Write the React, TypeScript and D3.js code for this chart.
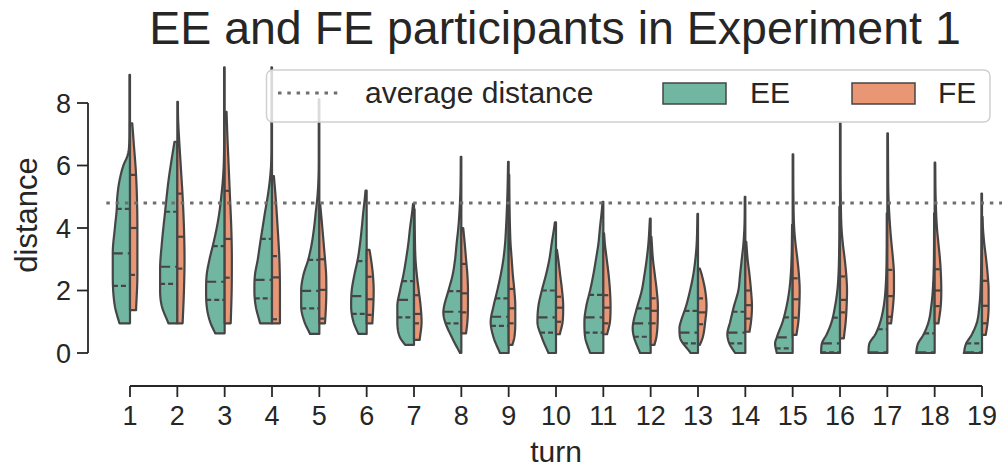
import React from 'react';
import * as d3 from 'd3';

// ---------- data ----------
const turns = [1, 2, 3, 4, 5, 6, 7, 8, 9, 10, 11, 12, 13, 14, 15, 16, 17, 18, 19];
const yTicks = [0, 2, 4, 6, 8];
const avgDistance = 4.8;
const hueNames = ['EE', 'FE'];

const eeMin = [0.95, 0.95, 0.63, 0.95, 0.61, 0.61, 0.26, 0, 0, 0, 0, 0, 0, 0, 0, 0, 0, 0, 0];
const eeMax = [8.9, 6.76, 9.14, 9.14, 8.12, 5.2, 4.77, 6.28, 6.12, 4.18, 4.84, 4.3, 4.45, 5.0, 4.1, 4.68, 4.47, 4.47, 5.1];
const eeQ1 = [2.15, 2.21, 1.7, 1.75, 1.43, 1.25, 1.14, 0.95, 0.87, 0.65, 0.65, 0.52, 0.31, 0.31, 0.15, 0.02, 0, 0, 0];
const eeMed = [3.19, 2.76, 2.28, 2.34, 1.99, 1.82, 1.7, 1.32, 1.16, 1.14, 1.14, 0.95, 0.65, 0.65, 0.5, 0.31, 0.02, 0.02, 0.02];
const eeQ3 = [4.61, 4.52, 3.42, 3.65, 2.98, 2.94, 2.3, 1.98, 1.75, 2.0, 1.86, 1.43, 1.35, 1.32, 1.14, 1.13, 0.76, 0.63, 0.31];
// density profile: [value, relative half-width]
const eeShape: number[][][] = [
  [[0.95, .56], [1.5, .8], [2.5, .91], [3.2, .91], [4, .8], [4.6, .7], [5, .67], [5.5, .56], [6, .35], [6.3, .14], [6.6, .05], [7.2, .03], [8.9, .03]],
  [[0.95, .47], [1.5, .82], [2, .91], [2.7, .91], [3.5, .82], [4.5, .65], [5.5, .47], [6.2, .3], [6.76, .15]],
  [[0.63, .5], [1, .77], [1.5, .95], [2, .98], [2.5, .95], [3, .8], [3.5, .6], [4, .42], [4.5, .28], [5, .18], [5.5, .1], [6, .05], [6.8, .03], [9.14, .03]],
  [[0.95, .63], [1.5, .86], [2, .93], [2.5, .9], [3, .75], [3.5, .63], [4, .5], [4.5, .37], [5, .23], [5.5, .12], [6, .05], [6.8, .03], [9.14, .03]],
  [[0.61, .49], [1, .79], [1.5, .96], [2, .96], [2.5, .84], [3, .58], [3.5, .4], [4, .28], [4.5, .19], [5, .1], [5.5, .05], [6.2, .03], [8.12, .03]],
  [[0.61, .44], [1, .7], [1.5, .82], [2, .79], [2.5, .65], [3, .47], [3.5, .35], [4, .26], [4.5, .18], [5, .09], [5.2, .06]],
  [[0.26, .47], [0.5, .74], [1, .88], [1.5, .88], [2, .74], [2.5, .56], [3, .42], [3.5, .3], [4, .21], [4.5, .1], [4.77, .05]],
  [[0, .07], [0.5, .5], [1, .86], [1.3, .95], [1.5, .91], [2, .68], [2.5, .46], [3, .33], [3.5, .25], [4, .16], [4.5, .1], [5, .06], [5.5, .04], [6.28, .03]],
  [[0, .46], [0.5, .8], [1, .95], [1.5, .8], [2, .6], [2.5, .42], [3, .28], [3.5, .19], [4, .14], [5, .07], [6.12, .03]],
  [[0, .4], [0.5, .75], [1, .98], [1.5, .93], [2, .75], [2.5, .53], [3, .35], [3.5, .23], [4, .1], [4.18, .06]],
  [[0, .7], [0.5, .96], [1, 1.0], [1.5, .9], [2, .7], [2.5, .53], [3, .39], [3.5, .26], [4, .18], [4.5, .09], [4.84, .04]],
  [[0, .56], [0.5, .88], [0.8, .95], [1, .91], [1.5, .7], [2, .47], [2.5, .33], [3, .21], [3.5, .12], [4.3, .04]],
  [[0, .39], [0.5, .95], [0.8, .98], [1, .91], [1.5, .63], [2, .42], [2.5, .25], [3, .14], [3.5, .07], [4.45, .03]],
  [[0, .54], [0.3, .84], [0.6, .95], [1, .8], [1.5, .6], [2, .37], [2.5, .28], [3, .19], [3.5, .1], [4.2, .04], [5.0, .03]],
  [[0, .84], [0.3, .93], [0.5, .84], [1, .53], [1.5, .32], [2, .18], [2.5, .1], [3, .06], [4.1, .03]],
  [[0, 1.0], [0.3, .96], [0.6, .7], [1, .44], [1.5, .26], [2, .14], [2.5, .08], [3.5, .04], [4.68, .03]],
  [[0, 1.0], [0.3, .95], [0.6, .63], [1, .37], [1.5, .19], [2, .1], [3, .04], [4.47, .03]],
  [[0, .98], [0.3, .88], [0.6, .58], [1, .32], [1.5, .18], [2, .1], [3, .04], [4.47, .03]],
  [[0, .96], [0.3, .84], [0.6, .53], [1, .26], [1.5, .14], [2, .08], [3, .04], [5.1, .03]],
];

const feMin = [1.37, 0.95, 0.95, 0.95, 0.95, 0.95, 0.42, 0.63, 0.26, 0.6, 0.6, 0.26, 0.26, 0.68, 0.58, 0.47, 0.95, 0.95, 0.58];
const feMax = [7.35, 8.04, 7.72, 5.66, 4.74, 3.3, 4.6, 4.0, 5.7, 3.3, 3.83, 3.72, 2.7, 3.56, 6.36, 7.35, 7.03, 6.09, 4.36];
const feQ1 = [2.5, 2.7, 2.41, 1.08, 1.1, 1.22, 0.95, 1.3, 0.95, 1.0, 0.95, 0.95, 0.92, 1.1, 1.13, 1.3, 1.16, 1.5, 0.95];
const feMed = [4.0, 3.72, 3.65, 2.42, 2.02, 1.72, 1.25, 1.91, 1.43, 1.45, 1.45, 1.35, 1.3, 1.53, 1.72, 1.7, 1.82, 2.0, 1.51];
const feQ3 = [5.7, 5.1, 5.19, 3.1, 3.0, 2.44, 1.85, 2.85, 2.05, 1.8, 1.85, 1.75, 1.75, 2.0, 2.39, 2.45, 2.66, 2.68, 2.31];
const feShape: number[][][] = [
  [[1.37, .32], [2.5, .39], [4, .39], [5.7, .32], [6.7, .2], [7.35, .12]],
  [[0.95, .28], [2, .35], [3, .38], [4, .35], [5, .28], [6, .18], [7, .08], [7.5, .04], [8.04, .03]],
  [[0.95, .32], [2, .37], [3, .38], [4, .35], [5, .28], [6, .21], [7, .14], [7.72, .1]],
  [[0.95, .42], [1.5, .42], [2, .42], [3, .39], [4, .3], [5, .19], [5.66, .1]],
  [[0.95, .3], [1.5, .35], [2, .37], [2.5, .36], [3, .3], [3.5, .23], [4, .16], [4.74, .05]],
  [[0.95, .3], [1.5, .35], [2, .37], [2.5, .33], [3, .23], [3.3, .15]],
  [[0.42, .3], [1, .4], [1.5, .35], [2, .25], [2.5, .15], [3, .08], [4, .04], [4.6, .03]],
  [[0.63, .25], [1, .32], [1.5, .35], [2, .35], [2.5, .32], [3, .25], [3.5, .18], [4, .1]],
  [[0.26, .2], [0.5, .3], [1, .35], [1.5, .35], [2, .3], [2.5, .22], [3, .16], [3.5, .1], [4, .07], [5, .04], [5.7, .03]],
  [[0.6, .2], [1, .35], [1.5, .38], [2, .32], [2.5, .22], [3, .12], [3.3, .05]],
  [[0.6, .2], [1, .35], [1.5, .38], [2, .35], [2.5, .28], [3, .18], [3.5, .08], [3.83, .04]],
  [[0.26, .2], [0.5, .3], [1, .37], [1.5, .38], [2, .32], [2.5, .22], [3, .12], [3.72, .04]],
  [[0.26, .1], [0.5, .25], [1, .38], [1.5, .45], [2, .38], [2.5, .2], [2.7, .1]],
  [[0.68, .22], [1, .3], [1.5, .35], [2, .3], [2.5, .22], [3, .12], [3.56, .05]],
  [[0.58, .2], [1, .3], [1.5, .35], [2, .37], [2.5, .33], [3, .25], [3.5, .15], [4, .08], [5, .04], [6.36, .03]],
  [[0.47, .2], [1, .3], [1.5, .35], [2, .37], [2.5, .33], [3, .25], [3.5, .15], [4, .08], [5, .04], [6, .03], [7.35, .03]],
  [[0.95, .2], [1.5, .3], [2, .35], [2.5, .35], [3, .3], [3.5, .22], [4, .15], [5, .06], [6, .04], [7.03, .03]],
  [[0.95, .2], [1.5, .32], [2, .35], [2.5, .33], [3, .28], [3.5, .2], [4, .12], [5, .05], [6.09, .03]],
  [[0.58, .2], [1, .3], [1.5, .35], [2, .35], [2.5, .3], [3, .22], [3.5, .12], [4, .05], [4.36, .03]],
];

// ---------- styling ----------
const W = 1002;
const H = 471;
const FONT = '"Liberation Sans", Arial, Helvetica, sans-serif';
const C_EE = '#71b6a0';
const C_FE = '#e99675';
const EDGE = '#454545';
const INK = '#262626';
const LW = 2.2;

// monotone cubic interpolation of a profile
function monotone(pts: number[][]) {
  const xs = pts.map(p => p[0]);
  const ys = pts.map(p => p[1]);
  const n = xs.length;
  const d: number[] = [];
  const m: number[] = new Array(n).fill(0);
  for (let i = 0; i < n - 1; i++) d[i] = (ys[i + 1] - ys[i]) / (xs[i + 1] - xs[i]);
  m[0] = d[0];
  m[n - 1] = d[n - 2];
  for (let i = 1; i < n - 1; i++) m[i] = d[i - 1] * d[i] <= 0 ? 0 : (d[i - 1] + d[i]) / 2;
  for (let i = 0; i < n - 1; i++) {
    if (d[i] === 0) { m[i] = 0; m[i + 1] = 0; continue; }
    const a = m[i] / d[i], b = m[i + 1] / d[i];
    const s = a * a + b * b;
    if (s > 9) { const t = 3 / Math.sqrt(s); m[i] = t * a * d[i]; m[i + 1] = t * b * d[i]; }
  }
  return (x: number) => {
    if (x <= xs[0]) return ys[0];
    if (x >= xs[n - 1]) return ys[n - 1];
    let i = 0;
    while (i < n - 2 && x > xs[i + 1]) i++;
    const h = xs[i + 1] - xs[i];
    const t = (x - xs[i]) / h;
    const t2 = t * t, t3 = t2 * t;
    return Math.max(0.02,
      (2 * t3 - 3 * t2 + 1) * ys[i] + (t3 - 2 * t2 + t) * h * m[i] +
      (-2 * t3 + 3 * t2) * ys[i + 1] + (t3 - t2) * h * m[i + 1]);
  };
}

export default function App() {
  const x = d3.scaleBand<number>().domain(turns).range([106.33, 1005.67]).padding(0);
  const y = d3.scaleLinear().domain([0, 8]).range([353, 103]);
  const halfMax = x.bandwidth() * 0.4;
  const cx = (t: number) => (x(t) as number) + x.bandwidth() / 2;

  const halves: any[] = [];
  turns.forEach((t, i) => {
    const c = cx(t);
    [
      { side: -1, mn: eeMin[i], mx: eeMax[i], shape: eeShape[i], q: [eeQ1[i], eeMed[i], eeQ3[i]], fill: C_EE },
      { side: 1, mn: feMin[i], mx: feMax[i], shape: feShape[i], q: [feQ1[i], feMed[i], feQ3[i]], fill: C_FE },
    ].forEach((h, k) => {
      const wf = monotone(h.shape);
      const N = 160;
      const pts: [number, number][] = [];
      for (let j = 0; j <= N; j++) {
        const v = h.mn + (h.mx - h.mn) * j / N;
        pts.push([c + h.side * wf(v) * halfMax, y(v)]);
      }
      pts.push([c, y(h.mx)]);
      pts.push([c, y(h.mn)]);
      const path = d3.line()(pts) + 'Z';
      const qlines = h.q.map((qv, qi) => {
        const w = wf(qv) * halfMax;
        const x1 = h.side < 0 ? c - w : c;
        const x2 = h.side < 0 ? c : c + w;
        return { x1, x2, y: y(qv), dash: qi === 1 ? '10 5' : '5 3' };
      });
      halves.push({ key: `${t}-${k}`, path, fill: h.fill, qlines });
    });
  });

  const xr = x.range();

  return (
    <svg width={W} height={H} style={{ position: 'absolute', left: 0, top: 0, background: '#fff' }}
      fontFamily={FONT}>
      {/* title */}
      <text x={555} y={44} textAnchor="middle" fontSize={46.5} fill={INK}>
        EE and FE participants in Experiment 1
      </text>

      {/* violins */}
      {halves.map(h => (
        <g key={h.key}>
          <path d={h.path} fill={h.fill} stroke={EDGE} strokeWidth={LW} strokeLinejoin="round" />
          {h.qlines.map((q: any, qi: number) => (
            <line key={qi} x1={q.x1} x2={q.x2} y1={q.y} y2={q.y} stroke={EDGE} strokeWidth={LW}
              strokeDasharray={q.dash} />
          ))}
        </g>
      ))}

      {/* average line */}
      <line x1={xr[0]} x2={xr[1]} y1={y(avgDistance)} y2={y(avgDistance)} stroke="#6e6e6e"
        strokeWidth={3} strokeDasharray="3.5 5.8" />

      {/* y axis */}
      <g>
        <line x1={88} x2={88} y1={y(0)} y2={y(8)} stroke={INK} strokeWidth={1.8} />
        {yTicks.map(t => (
          <g key={t}>
            <line x1={77} x2={88} y1={y(t)} y2={y(t)} stroke={INK} strokeWidth={1.8} />
            <text x={71} y={y(t)} dy="0.36em" textAnchor="end" fontSize={27} fill={INK}>{t}</text>
          </g>
        ))}
        <text transform={`translate(37, 215) rotate(-90)`} textAnchor="middle" fontSize={31} fill={INK}>distance</text>
      </g>

      {/* x axis */}
      <g>
        <line x1={cx(turns[0])} x2={cx(turns[turns.length - 1])} y1={386} y2={386} stroke={INK} strokeWidth={1.8} />
        {turns.map(t => (
          <g key={t}>
            <line x1={cx(t)} x2={cx(t)} y1={386} y2={397} stroke={INK} strokeWidth={1.8} />
            <text x={cx(t)} y={425} textAnchor="middle" fontSize={27} fill={INK}>{t}</text>
          </g>
        ))}
        <text x={556} y={462} textAnchor="middle" fontSize={30} fill={INK}>turn</text>
      </g>

      {/* legend */}
      <g>
        <rect x={266.5} y={70} width={723.5} height={52} rx={6} fill="#fff" fillOpacity={0.8}
          stroke="#d0d0d0" strokeWidth={1.5} />
        <line x1={278} x2={340} y1={93} y2={93} stroke="#6e6e6e" strokeWidth={3} strokeDasharray="3.5 5.8" />
        <text x={365} y={103} fontSize={30} fill={INK}>average distance</text>
        <rect x={663} y={83} width={63} height={21} fill={C_EE} stroke={EDGE} strokeWidth={1.5} />
        <text x={750} y={103} fontSize={30} fill={INK}>{hueNames[0]}</text>
        <rect x={852} y={83} width={63} height={21} fill={C_FE} stroke={EDGE} strokeWidth={1.5} />
        <text x={938} y={103} fontSize={30} fill={INK}>{hueNames[1]}</text>
      </g>
    </svg>
  );
}
